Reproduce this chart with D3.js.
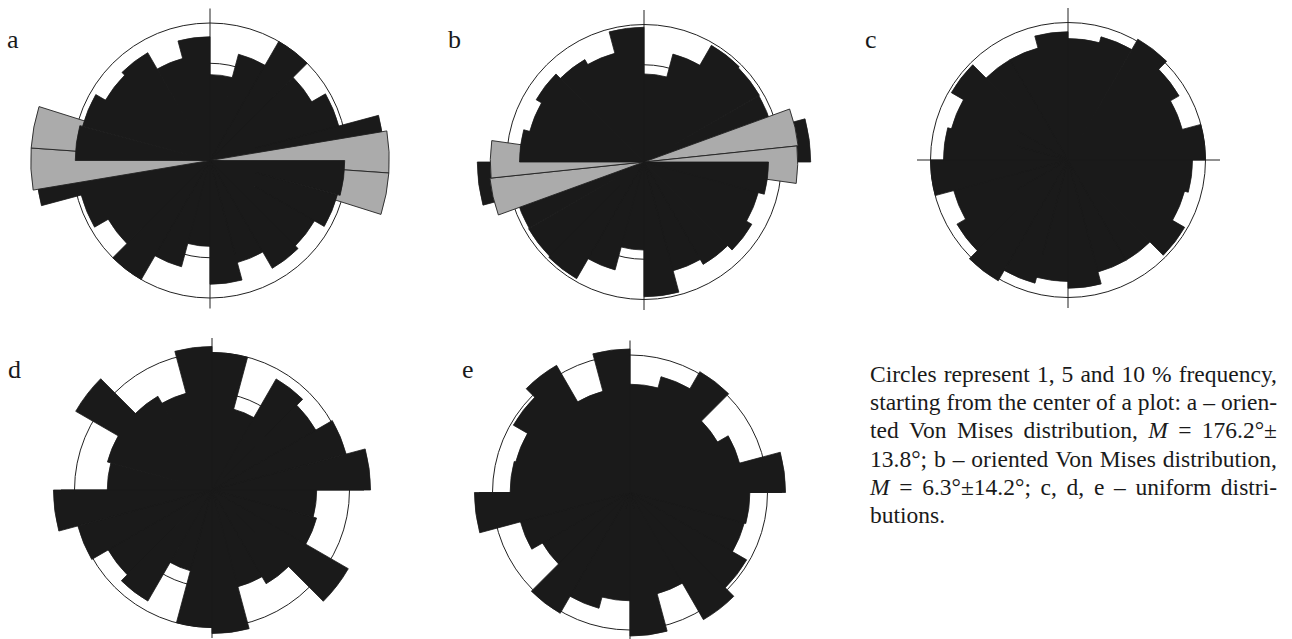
<!DOCTYPE html>
<html>
<head>
<meta charset="utf-8">
<script src="https://cdn.jsdelivr.net/npm/d3@7"></script>
<style>
  body { margin: 0; background: #fff; }
  svg { display: block; }
  text { font-family: "Liberation Serif", "Times New Roman", serif; fill: #1a1a1a; }
</style>
</head>
<body>
<svg id="fig" width="1292" height="639"></svg>
<script>
// Axial orientation data: 12 bins of 15° over 0–180°, each bin is
// also drawn on the opposite side of the rose (value in % frequency).
const binWidth = 15;
const binStarts = d3.range(0, 180, binWidth);

const roseA = [3.9, 6.4, 10.0, 7.3, 9.4, 16.1, 9.6, 9.2, 7.7, 8.2, 5.9, 8.1];
const roseB = [4.1, 6.6, 9.6, 9.4, 9.3, 14.7, 8.2, 7.4, 8.2, 7.4, 6.7, 9.6];
const roseC = [7.8, 8.6, 10.3, 8.7, 7.4, 10.0, 8.2, 7.7, 9.6, 7.1, 7.1, 8.7];
const roseD = [10.0, 3.7, 8.7, 7.6, 10.2, 13.3, 5.8, 6.2, 13.1, 6.2, 5.3, 10.9];
const roseE = [6.2, 7.6, 10.3, 5.4, 6.8, 12.8, 7.6, 7.4, 9.6, 11.4, 5.8, 10.9];

// Oriented (Von Mises) samples shown in grey: bin edges (deg) and values (%)
const vonMisesEdgesA = [80.5, 94, 107.5];
const vonMisesA = [17.0, 17.0];
const vonMisesEdgesB = [70, 84, 98];
const vonMisesB = [12.7, 12.5];

// Reference circles, % frequency
const circleLevels = [1, 5, 10];

const panelLabels = ["a", "b", "c", "d", "e"];

const captionLines = [
  ["Circles", "represent", "1,", "5", "and", "10", "%", "frequency,"],
  ["starting", "from", "the", "center", "of", "a", "plot:", "a", "–", "orien-"],
  ["ted", "Von", "Mises", "distribution,", "*M", "=", "176.2°±"],
  ["13.8°;", "b", "–", "oriented", "Von", "Mises", "distribution,"],
  ["*M", "=", "6.3°±14.2°;", "c,", "d,", "e", "–", "uniform", "distri-"],
  ["butions."]
];

// ---- layout ----
const R = 137.5;          // radius of the 10 % circle
const axisLen = 150;      // half length of the N–S / E–W cross
const layout = [
  { cx: 210,  cy: 160.5, lx: 7,   ly: 48 },
  { cx: 644,  cy: 162,   lx: 448, ly: 48 },
  { cx: 1068, cy: 160,   lx: 865, ly: 48 },
  { cx: 212,  cy: 490,   lx: 8,   ly: 378 },
  { cx: 630,  cy: 492.5, lx: 462, ly: 378 }
];
const roses = [roseA, roseB, roseC, roseD, roseE];
const vmEdges = [vonMisesEdgesA, vonMisesEdgesB, null, null, null];
const vmValues = [vonMisesA, vonMisesB, null, null, null];

const BLACK = "#1a1a1a";
const GREY = "#ababab";
const LINE = "#222";

const svg = d3.select("#fig");
const r = d3.scaleSqrt().domain([0, 10]).range([0, R]);
const rad = d => d * Math.PI / 180;
const arc = d3.arc().innerRadius(0);

panelLabels.forEach((label, k) => {
  const L = layout[k], rose = roses[k];
  const g = svg.append("g").attr("transform", `translate(${L.cx},${L.cy})`);

  // cross through the centre
  g.append("line").attr("x1", 0).attr("x2", 0).attr("y1", -axisLen - 2).attr("y2", axisLen - 2)
    .attr("stroke", LINE).attr("stroke-width", 1);
  g.append("line").attr("y1", 0).attr("y2", 0).attr("x1", -axisLen - 1).attr("x2", axisLen + 2)
    .attr("stroke", LINE).attr("stroke-width", 1);

  // frequency circles
  g.selectAll("circle.level").data(circleLevels).join("circle")
    .attr("class", "level").attr("r", d => r(d))
    .attr("fill", "none").attr("stroke", LINE).attr("stroke-width", 1);

  // full-circle bins (axial data mirrored)
  const bins = [];
  binStarts.forEach((s, i) => {
    bins.push({ start: s, value: rose[i] });
    bins.push({ start: s + 180, value: rose[i] });
  });
  const back = bins.filter(b => (b.start % 180) < 90);
  const front = bins.filter(b => (b.start % 180) >= 90);

  // each layer of black bins is one path; a thin same-colour outline
  // closes the hairline gaps between neighbouring wedges
  const binPath = data => data.map(b =>
    arc({ startAngle: rad(b.start), endAngle: rad(b.start + binWidth), outerRadius: r(b.value) })).join("");
  const drawBins = data => g.append("path").datum(data)
    .attr("d", binPath).attr("fill", BLACK)
    .attr("stroke", BLACK).attr("stroke-width", 0.8).attr("stroke-linejoin", "round");

  drawBins(back);

  if (vmValues[k]) {
    const edges = vmEdges[k], vm = [];
    vmValues[k].forEach((v, i) => {
      vm.push({ a0: edges[i], a1: edges[i + 1], value: v });
      vm.push({ a0: edges[i] + 180, a1: edges[i + 1] + 180, value: v });
    });
    g.append("g").selectAll("path").data(vm).join("path")
      .attr("d", b => arc({ startAngle: rad(b.a0), endAngle: rad(b.a1), outerRadius: r(b.value) }))
      .attr("fill", GREY).attr("stroke", LINE).attr("stroke-width", 0.9);
  }

  drawBins(front);

  svg.append("text").attr("x", L.lx).attr("y", L.ly)
    .attr("font-size", 26).text(label);
});

// caption, justified between two margins
const capLeft = 870, capRight = 1277, capTop = 381.7, capStep = 28.3, capSize = 23.5;
const cap = svg.append("g").attr("font-size", capSize);
captionLines.forEach((words, li) => {
  const y = capTop + li * capStep;
  const nodes = words.map(w => {
    const italic = w.startsWith("*");
    const t = cap.append("text").attr("y", y)
      .attr("font-style", italic ? "italic" : null)
      .text(italic ? w.slice(1) : w);
    return { t, w: t.node().getComputedTextLength() };
  });
  const total = d3.sum(nodes, n => n.w);
  const last = li === captionLines.length - 1;
  const gap = (last || nodes.length < 2) ? capSize * 0.25 : (capRight - capLeft - total) / (nodes.length - 1);
  let x = capLeft;
  nodes.forEach(n => { n.t.attr("x", x); x += n.w + gap; });
});
</script>
</body>
</html>
